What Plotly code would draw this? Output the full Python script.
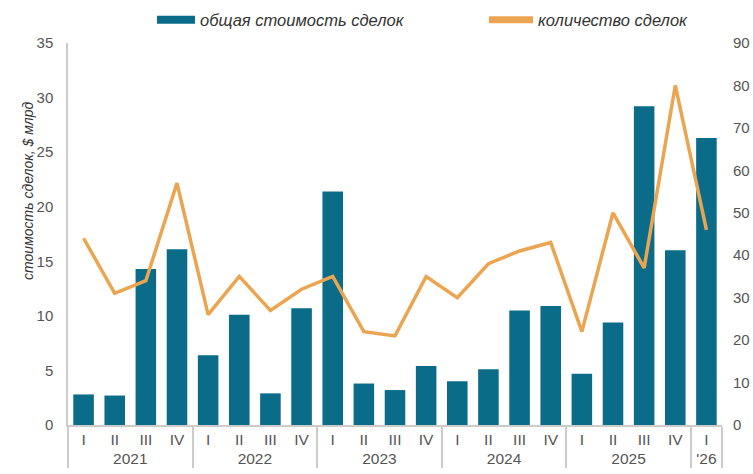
import plotly.graph_objects as go

years = ['2021'] * 4 + ['2022'] * 4 + ['2023'] * 4 + ['2024'] * 4 + ['2025'] * 4 + ["'26"]
quarters = ['I', 'II', 'III', 'IV'] * 5 + ['I']

deal_value = [2.8, 2.7, 14.3, 16.1,
              6.4, 10.1, 2.9, 10.7,
              21.4, 3.8, 3.2, 5.4,
              4.0, 5.1, 10.5, 10.9,
              4.7, 9.4, 29.2, 16.0,
              26.3]
deal_count = [44, 31, 34, 57,
              26, 35, 27, 32,
              35, 22, 21, 35,
              30, 38, 41, 43,
              22, 50, 37, 80,
              46]

bar_color = '#0A6C89'
line_color = '#EBA551'
font_fam = 'Arial, Liberation Sans, sans-serif'

fig = go.Figure()

fig.add_trace(go.Bar(
    x=[years, quarters], y=deal_value,
    marker=dict(color=bar_color, line=dict(width=0)),
    name='общая стоимость сделок',
    showlegend=False,
))
fig.add_trace(go.Scatter(
    x=[years, quarters], y=deal_count, yaxis='y2',
    mode='lines', line=dict(color=line_color, width=3.5),
    name='количество сделок',
    showlegend=False,
))

# legend entries (wide rectangles like the original), one legend each
fig.add_trace(go.Scatter(x=[None], y=[None], mode='lines',
                         line=dict(color=bar_color, width=8),
                         name='общая стоимость сделок', legend='legend'))
fig.add_trace(go.Scatter(x=[None], y=[None], mode='lines',
                         line=dict(color=line_color, width=7),
                         name='количество сделок', legend='legend2'))

fig.add_annotation(
    text='стоимость сделок, $ млрд', textangle=-90,
    xref='paper', yref='paper', x=-0.061, y=0.613, showarrow=False,
    xanchor='center', yanchor='middle',
    font=dict(family=font_fam, size=14, color='#333', style='italic'),
)

leg_common = dict(
    orientation='h', xref='container', yref='container',
    yanchor='middle', xanchor='left',
    bgcolor='rgba(0,0,0,0)',
    font=dict(size=16.5, color='#333', style='italic'),
)

fig.update_layout(
    width=753, height=474,
    margin=dict(l=68, r=31, t=43, b=49, autoexpand=False),
    paper_bgcolor='white', plot_bgcolor='white',
    font=dict(family=font_fam, size=15, color='#555'),
    bargap=0.34,
    xaxis=dict(
        type='multicategory', showgrid=False, automargin=False,
        showline=True, linecolor='#cccccc', linewidth=1.5,
        showdividers=True, dividercolor='#cccccc', dividerwidth=1.5,
        ticks='', tickfont=dict(size=15.5, color='#555'),
    ),
    yaxis=dict(
        range=[0, 35], dtick=5, showgrid=False, zeroline=False,
        showline=True, linecolor='#cccccc', linewidth=1.5,
        ticks='outside', ticklen=10, tickcolor='rgba(0,0,0,0)',
        tickfont=dict(size=15, color='#555'), automargin=False,
    ),
    yaxis2=dict(
        range=[0, 90], dtick=10, overlaying='y', side='right',
        showgrid=False, zeroline=False, showline=False,
        ticks='', ticklabelstandoff=10,
        tickfont=dict(size=15, color='#555'), automargin=False,
    ),
    legend=dict(leg_common, x=152 / 753, y=1 - 20 / 474, itemwidth=38),
    legend2=dict(leg_common, x=484 / 753, y=1 - 20 / 474, itemwidth=44),
)

# drop the default page margin so the chart sits at the window's corner
fig.write_html('out.html', config={'displayModeBar': False},
               post_script="document.body.style.margin='0';")
